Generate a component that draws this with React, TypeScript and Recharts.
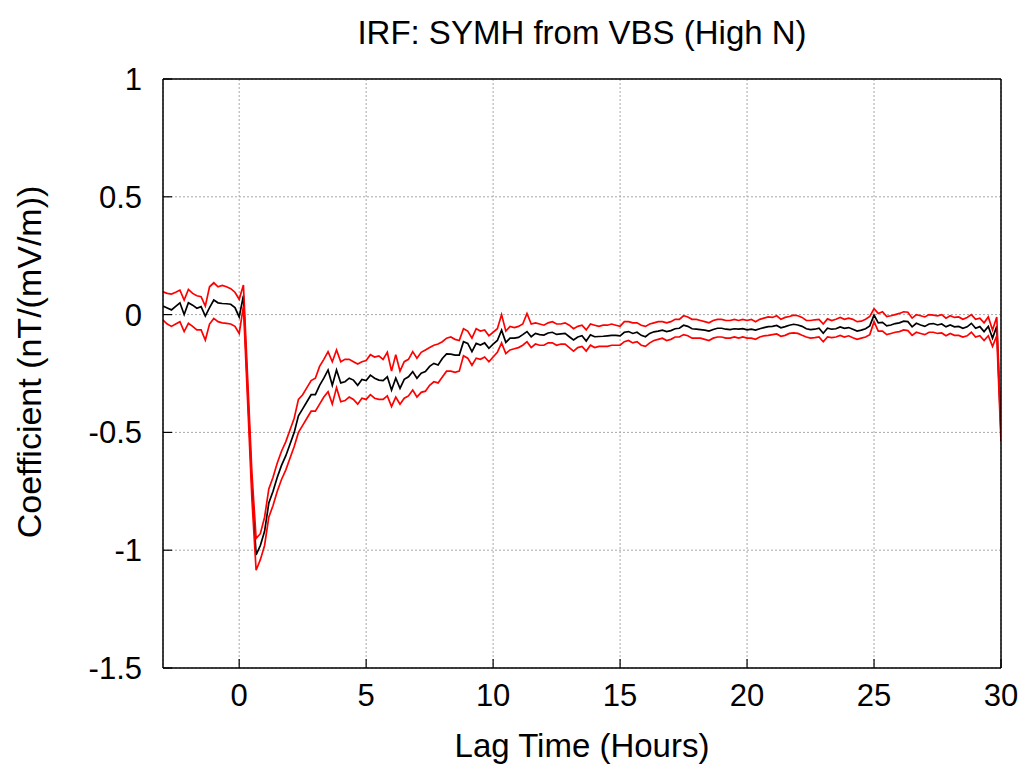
import React from "react";
import { LineChart, Line, XAxis, YAxis, CartesianGrid } from "recharts";

// 10-minute lag steps from -3 h to +30 h
const lagHours = Array.from({ length: 199 }, (_, i) => -3 + i / 6);

const irfCoef = [
  0.036, 0.028, 0.02, 0.035, 0.05, 0.0, 0.05, 0.04, 0.027, 0.034,
  -0.006, 0.03, 0.062, 0.05, 0.047, 0.046, 0.044, 0.03, -0.01, 0.08,
  -0.32, -0.72, -1.02, -0.98, -0.92, -0.8, -0.75, -0.69, -0.64, -0.6,
  -0.55, -0.5, -0.43, -0.4, -0.37, -0.34, -0.34, -0.3, -0.27, -0.235,
  -0.3, -0.235, -0.29, -0.285, -0.27, -0.278, -0.3, -0.275, -0.28, -0.257,
  -0.27, -0.278, -0.28, -0.264, -0.32, -0.27, -0.313, -0.275, -0.264, -0.242,
  -0.27, -0.249, -0.242, -0.22, -0.207, -0.214, -0.186, -0.167, -0.168, -0.172,
  -0.172, -0.115, -0.122, -0.157, -0.122, -0.129, -0.12, -0.143, -0.125, -0.11,
  -0.066, -0.118, -0.1, -0.1, -0.097, -0.085, -0.072, -0.094, -0.08, -0.085,
  -0.087, -0.078, -0.075, -0.084, -0.082, -0.08, -0.094, -0.108, -0.095, -0.09,
  -0.112, -0.086, -0.094, -0.093, -0.092, -0.09, -0.088, -0.088, -0.09, -0.075,
  -0.072, -0.08, -0.075, -0.088, -0.094, -0.08, -0.073, -0.07, -0.066, -0.072,
  -0.068, -0.06, -0.058, -0.045, -0.05, -0.06, -0.062, -0.064, -0.066, -0.07,
  -0.063, -0.058, -0.058, -0.062, -0.064, -0.06, -0.062, -0.06, -0.065, -0.062,
  -0.066, -0.06, -0.055, -0.051, -0.05, -0.046, -0.056, -0.051, -0.045, -0.041,
  -0.044, -0.05, -0.06, -0.064, -0.062, -0.058, -0.079, -0.058, -0.062, -0.06,
  -0.052, -0.058, -0.055, -0.062, -0.07, -0.066, -0.06, -0.048, -0.002, -0.035,
  -0.033, -0.048, -0.044, -0.038, -0.035, -0.028, -0.03, -0.052, -0.037, -0.044,
  -0.05, -0.04, -0.038, -0.044, -0.04, -0.052, -0.044, -0.052, -0.05, -0.058,
  -0.052, -0.037, -0.058, -0.051, -0.072, -0.05, -0.1, -0.05, -0.5,
];

const upperBound = [
  0.097, 0.09, 0.087, 0.095, 0.104, 0.062, 0.107, 0.09, 0.08, 0.076,
  0.036, 0.118, 0.135, 0.118, 0.124, 0.118, 0.11, 0.095, 0.065, 0.126,
  -0.27, -0.67, -0.95, -0.93, -0.86, -0.74, -0.69, -0.63, -0.58, -0.54,
  -0.49, -0.44, -0.36, -0.34, -0.31, -0.28, -0.27, -0.22, -0.19, -0.157,
  -0.2, -0.15, -0.2, -0.19, -0.19, -0.2, -0.21, -0.2, -0.195, -0.17,
  -0.18, -0.175, -0.19, -0.16, -0.24, -0.17, -0.24, -0.2, -0.19, -0.157,
  -0.185, -0.16, -0.15, -0.14, -0.13, -0.125, -0.115, -0.1, -0.095, -0.105,
  -0.11, -0.06, -0.07, -0.1, -0.06, -0.07, -0.065, -0.09, -0.075, -0.06,
  0.0, -0.07, -0.05, -0.055, -0.05, -0.04, 0.005, -0.04, -0.035, -0.04,
  -0.045, -0.035, -0.03, -0.04, -0.04, -0.035, -0.045, -0.06, -0.05, -0.045,
  -0.065, -0.04, -0.045, -0.05, -0.045, -0.045, -0.04, -0.045, -0.05, -0.03,
  -0.03, -0.035, -0.035, -0.045, -0.05, -0.04, -0.035, -0.03, -0.03, -0.035,
  -0.03, -0.02, -0.02, -0.005, -0.01, -0.02, -0.02, -0.025, -0.03, -0.035,
  -0.025, -0.02, -0.02, -0.025, -0.025, -0.02, -0.025, -0.02, -0.025, -0.02,
  -0.03, -0.02, -0.015, -0.01, -0.012, -0.005, -0.02, -0.012, -0.008, -0.002,
  -0.005, -0.012, -0.025, -0.025, -0.022, -0.02, -0.04, -0.018, -0.025, -0.02,
  -0.012, -0.02, -0.015, -0.02, -0.03, -0.028, -0.02, -0.008, 0.025, 0.005,
  0.012, -0.008, -0.005, 0.0, 0.005, 0.012, 0.01, -0.015, 0.0, -0.005,
  -0.01, 0.0, -0.002, -0.005, 0.0, -0.015, -0.005, -0.012, -0.01, -0.02,
  -0.012, 0.0, -0.02, -0.015, -0.035, -0.01, -0.065, -0.01, -0.47,
];

const lowerBound = [
  -0.023, -0.04, -0.05, -0.04, -0.03, -0.072, -0.037, -0.05, -0.065, -0.065,
  -0.108, -0.04, -0.016, -0.03, -0.035, -0.037, -0.04, -0.05, -0.08, 0.035,
  -0.37, -0.78, -1.085, -1.04, -0.98, -0.86, -0.81, -0.75, -0.7, -0.66,
  -0.61, -0.56, -0.5, -0.47, -0.44, -0.41, -0.41, -0.38, -0.35, -0.327,
  -0.38, -0.31, -0.37, -0.365, -0.35, -0.36, -0.38, -0.355, -0.36, -0.34,
  -0.355, -0.36, -0.36, -0.345, -0.39, -0.35, -0.38, -0.355, -0.345, -0.32,
  -0.35, -0.33, -0.325, -0.3, -0.285, -0.29, -0.265, -0.24, -0.24, -0.245,
  -0.24, -0.175, -0.185, -0.215, -0.185, -0.19, -0.18, -0.2, -0.18, -0.16,
  -0.12, -0.165, -0.15, -0.145, -0.14, -0.13, -0.115, -0.14, -0.125, -0.13,
  -0.13, -0.12, -0.12, -0.13, -0.125, -0.125, -0.14, -0.155, -0.14, -0.135,
  -0.155, -0.13, -0.14, -0.135, -0.135, -0.135, -0.13, -0.13, -0.13, -0.115,
  -0.11, -0.12, -0.115, -0.13, -0.135, -0.12, -0.11, -0.105, -0.1, -0.11,
  -0.105, -0.095, -0.095, -0.085, -0.09, -0.1, -0.1, -0.1, -0.105, -0.11,
  -0.1, -0.095, -0.095, -0.1, -0.1, -0.095, -0.1, -0.095, -0.1, -0.1,
  -0.105, -0.095, -0.09, -0.088, -0.085, -0.082, -0.092, -0.088, -0.08, -0.078,
  -0.08, -0.088, -0.095, -0.1, -0.098, -0.095, -0.115, -0.095, -0.098, -0.095,
  -0.088, -0.095, -0.09, -0.098, -0.105, -0.1, -0.095, -0.085, -0.03, -0.07,
  -0.07, -0.085, -0.08, -0.075, -0.072, -0.065, -0.068, -0.088, -0.075, -0.08,
  -0.085, -0.075, -0.075, -0.08, -0.078, -0.09, -0.08, -0.088, -0.088, -0.095,
  -0.09, -0.075, -0.095, -0.09, -0.11, -0.09, -0.135, -0.09, -0.54,
];

const xTicks = [0, 5, 10, 15, 20, 25, 30];
const yTicks = [-1.5, -1, -0.5, 0, 0.5, 1];

const rows = lagHours.map((t, i) => ({
  t,
  coef: irfCoef[i],
  hi: upperBound[i],
  lo: lowerBound[i],
}));

const FONT = "'Liberation Sans', Arial, Helvetica, sans-serif";

const XTick = (props: any) => {
  const { x, y, payload } = props;
  return (
    <g>
      <line x1={x} x2={x} y1={y} y2={y - 9} stroke="#000" strokeWidth={1.2} />
      <text x={x} y={y + 38} textAnchor="middle" fontSize={31} fill="#000" fontFamily={FONT}>
        {payload.value}
      </text>
    </g>
  );
};

const YTick = (props: any) => {
  const { x, y, payload } = props;
  return (
    <g>
      <line x1={x} x2={x + 9} y1={y} y2={y} stroke="#000" strokeWidth={1.2} />
      <text x={x - 21} y={y + 11} textAnchor="end" fontSize={31} fill="#000" fontFamily={FONT}>
        {payload.value}
      </text>
    </g>
  );
};

export default function App() {
  return (
    <div style={{ position: "absolute", left: 0, top: 0, width: 1024, height: 772, background: "#fff" }}>
      <LineChart
        width={1024}
        height={772}
        data={rows}
        margin={{ top: 79, right: 23, bottom: 24, left: 0 }}
      >
        <CartesianGrid stroke="#a8a8a8" strokeDasharray="2 2" strokeWidth={1} />
        <XAxis
          dataKey="t"
          type="number"
          domain={[-3, 30]}
          ticks={xTicks}
          allowDataOverflow
          height={80}
          tickSize={0}
          tickMargin={0}
          tickLine={false}
          axisLine={{ stroke: "#000", strokeWidth: 1.5 }}
          tick={<XTick />}
        />
        <XAxis
          xAxisId="top"
          orientation="top"
          mirror
          type="number"
          domain={[-3, 30]}
          ticks={xTicks}
          allowDataOverflow
          height={10}
          tickSize={9}
          tick={false}
          tickLine={{ stroke: "#000", strokeWidth: 1.2 }}
          axisLine={{ stroke: "#000", strokeWidth: 1.5 }}
        />
        <YAxis
          type="number"
          domain={[-1.5, 1]}
          ticks={yTicks}
          allowDataOverflow
          width={163}
          tickSize={0}
          tickMargin={0}
          tickLine={false}
          axisLine={{ stroke: "#000", strokeWidth: 1.5 }}
          tick={<YTick />}
        />
        <YAxis
          yAxisId="right"
          orientation="right"
          mirror
          type="number"
          domain={[-1.5, 1]}
          ticks={yTicks}
          allowDataOverflow
          width={10}
          tickSize={9}
          tick={false}
          tickLine={{ stroke: "#000", strokeWidth: 1.2 }}
          axisLine={{ stroke: "#000", strokeWidth: 1.5 }}
        />
        <Line type="linear" dataKey="coef" stroke="#000" strokeWidth={1.7} dot={false} isAnimationActive={false} />
        <Line type="linear" dataKey="hi" stroke="#ff0000" strokeWidth={1.7} dot={false} isAnimationActive={false} />
        <Line type="linear" dataKey="lo" stroke="#ff0000" strokeWidth={1.7} dot={false} isAnimationActive={false} />
      </LineChart>
      <svg
        width={1024}
        height={772}
        style={{ position: "absolute", left: 0, top: 0, pointerEvents: "none" }}
      >
        <text x={582} y={44} textAnchor="middle" fontSize={33} fontFamily={FONT} fill="#000">
          IRF: SYMH from VBS (High N)
        </text>
        <text x={582} y={757} textAnchor="middle" fontSize={33} fontFamily={FONT} fill="#000">
          Lag Time (Hours)
        </text>
        <text
          x={41}
          y={362}
          textAnchor="middle"
          fontSize={34}
          fontFamily={FONT}
          fill="#000"
          transform="rotate(-90 41 362)"
        >
          Coefficient (nT/(mV/m))
        </text>
      </svg>
    </div>
  );
}
